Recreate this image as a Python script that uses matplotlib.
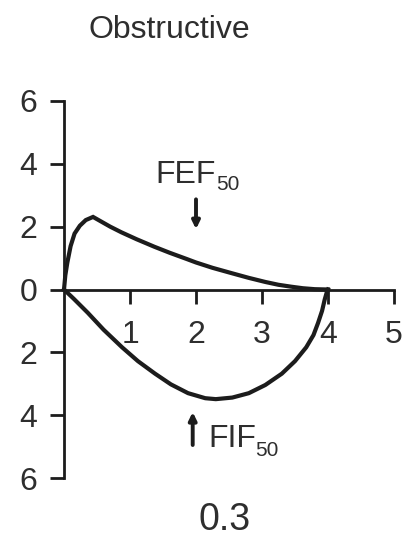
import matplotlib
matplotlib.use("Agg")
import matplotlib.pyplot as plt

plt.rcParams['font.family'] = ['Liberation Sans', 'DejaVu Sans']
plt.rcParams['mathtext.default'] = 'regular'

# Expiratory limb (flow above zero), volume in L, flow in L/s
exp_volume = [0.0, 0.02, 0.05, 0.10, 0.16, 0.24, 0.33, 0.44, 0.70, 0.87, 1.10,
              1.37, 1.60, 1.86, 2.00, 2.25, 2.54, 2.80, 3.05, 3.25, 3.44, 3.62,
              3.80, 4.00]
exp_flow = [0.0, 0.45, 0.85, 1.38, 1.78, 2.03, 2.21, 2.31, 2.00, 1.82, 1.60,
            1.36, 1.17, 0.97, 0.86, 0.69, 0.52, 0.37, 0.24, 0.15, 0.09, 0.04,
            0.01, 0.0]

# Inspiratory limb (flow below zero)
insp_volume = [0.0, 0.15, 0.36, 0.60, 0.88, 1.12, 1.38, 1.62, 1.88, 2.14, 2.30,
               2.55, 2.80, 3.05, 3.30, 3.50, 3.67, 3.78, 3.85, 3.91, 3.95, 3.98,
               4.00]
insp_flow = [0.0, -0.30, -0.74, -1.28, -1.84, -2.28, -2.68, -3.02, -3.30, -3.46,
             -3.49, -3.44, -3.30, -3.04, -2.68, -2.28, -1.84, -1.45, -1.06,
             -0.68, -0.32, -0.10, 0.0]

x_ticks = [1, 2, 3, 4, 5]
x_tick_labels = ['1', '2', '3', '4', '5']
y_ticks = [-6, -4, -2, 0, 2, 4, 6]
y_tick_labels = ['6', '4', '2', '0', '2', '4', '6']

fef_volume = 2.0
fif_volume = 1.95

ink = '#1c1c1c'
txt = '#2e2e2e'

W, H = 407, 540
fig = plt.figure(figsize=(W / 100, H / 100), dpi=100)
left, right = 64, 394
top, bottom = 101, 478
ax = fig.add_axes([left / W, (H - bottom) / H, (right - left) / W, (bottom - top) / H])

ax.plot(exp_volume, exp_flow, color=ink, lw=3.0, solid_joinstyle='miter',
        clip_on=False, zorder=3)
ax.plot(insp_volume, insp_flow, color=ink, lw=3.0, clip_on=False, zorder=3)

ax.set_xlim(0, 5)
ax.set_ylim(-6, 6)

for s in ('top', 'right'):
    ax.spines[s].set_visible(False)
ax.spines['bottom'].set_position(('data', 0))
ax.spines['left'].set_linewidth(2.0)
ax.spines['bottom'].set_linewidth(2.0)
ax.spines['left'].set_color(ink)
ax.spines['bottom'].set_color(ink)

ax.set_xticks(x_ticks)
ax.set_xticklabels(x_tick_labels)
ax.set_yticks(y_ticks)
ax.set_yticklabels(y_tick_labels)
ax.tick_params(axis='both', direction='out', length=10, width=2.0, color=ink,
               labelsize=23, labelcolor=txt)
ax.tick_params(axis='y', pad=9)
ax.tick_params(axis='x', pad=12)
ax.patch.set_alpha(0)

# FEF50 marker
ax.annotate('', xy=(fef_volume, 1.92), xytext=(fef_volume, 2.87),
            arrowprops=dict(arrowstyle='-|>,head_length=0.45,head_width=0.22',
                            lw=2.8, color=ink, shrinkA=0, shrinkB=0))
ax.text(1.38, 3.38, 'FEF', fontsize=23, color=txt, ha='left', va='baseline')
ax.text(2.31, 3.16, '50', fontsize=15, color=txt, ha='left', va='baseline')

# FIF50 marker
ax.annotate('', xy=(fif_volume, -3.9), xytext=(fif_volume, -4.95),
            arrowprops=dict(arrowstyle='-|>,head_length=0.45,head_width=0.22',
                            lw=2.8, color=ink, shrinkA=0, shrinkB=0))
ax.text(2.18, -5.0, 'FIF', fontsize=23, color=txt, ha='left', va='baseline')
ax.text(2.9, -5.3, '50', fontsize=15, color=txt, ha='left', va='baseline')

fig.text(169 / W, 1 - 30 / H, 'Obstructive', fontsize=23, color=txt,
         ha='center', va='center')
fig.text(225 / W, 1 - 520 / H, '0.3', fontsize=27, color=txt,
         ha='center', va='center')

fig.savefig('out.png', dpi=100, facecolor='white')
